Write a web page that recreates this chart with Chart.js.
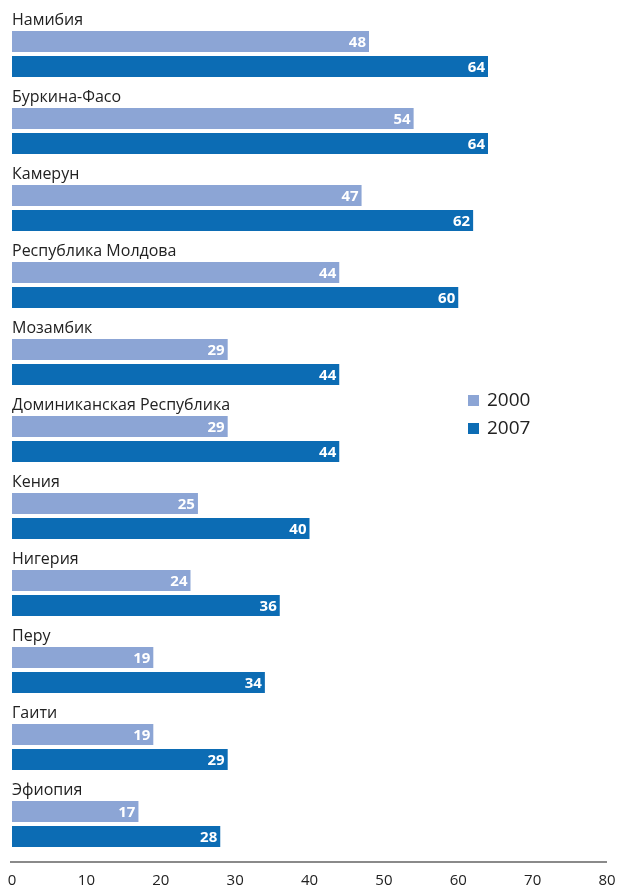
<!DOCTYPE html>
<html>
<head>
<meta charset="utf-8">
<script src="https://cdn.jsdelivr.net/npm/chart.js@4"></script>
<style>
  html, body { margin: 0; padding: 0; background: #fff; }
  #wrap { width: 618px; height: 888px; position: relative; }
</style>
</head>
<body>
<div id="wrap"><canvas id="barChart"></canvas></div>
<script>
    'use strict';

    var countries = ['Намибия', 'Буркина-Фасо', 'Камерун', 'Республика Молдова', 'Мозамбик',
        'Доминиканская Республика', 'Кения', 'Нигерия', 'Перу', 'Гаити', 'Эфиопия'];
    var values2000 = [48, 54, 47, 44, 29, 29, 25, 24, 19, 19, 17];
    var values2007 = [64, 64, 62, 60, 44, 44, 40, 36, 34, 29, 28];
    var xTicks = [0, 10, 20, 30, 40, 50, 60, 70, 80];

    var LIGHT = '#8ca5d5';
    var DARK = '#0c6cb4';
    var FONT = "'Open Sans', 'DejaVu Sans', sans-serif";

    // country names above each pair, value labels inside bar ends, axis line, legend
    var decorPlugin = {
        id: 'decor',
        afterDatasetsDraw: function(chart) {
            var ctx = chart.ctx;
            var area = chart.chartArea;
            var m2000 = chart.getDatasetMeta(1);
            var m2007 = chart.getDatasetMeta(2);

            ctx.save();
            ctx.fillStyle = '#222';
            ctx.font = '16px ' + FONT;
            ctx.textAlign = 'left';
            ctx.textBaseline = 'middle';
            m2000.data.forEach(function(bar, i) {
                var step = m2007.data[i].y - bar.y;
                ctx.fillText(countries[i], area.left, bar.y - step + 4);
            });

            ctx.fillStyle = '#fff';
            ctx.font = 'bold 15px ' + FONT;
            ctx.textAlign = 'right';
            [m2000, m2007].forEach(function(meta, d) {
                var vals = d === 0 ? values2000 : values2007;
                meta.data.forEach(function(bar, i) {
                    ctx.fillText(String(vals[i]), bar.x - 3, bar.y + 1);
                });
            });

            var x = chart.scales.x;
            ctx.strokeStyle = '#8a8a8a';
            ctx.lineWidth = 2;
            ctx.beginPath();
            ctx.moveTo(x.left - 2, area.bottom + 12);
            ctx.lineTo(x.right, area.bottom + 12);
            ctx.stroke();

            var lx = 468, ly = 395;
            ctx.textAlign = 'left';
            ctx.font = '19px ' + FONT;
            chart.data.datasets.forEach(function(ds) {
                if (!ds.label) return;
                ctx.fillStyle = ds.backgroundColor;
                ctx.fillRect(lx, ly, 11, 11);
                ctx.fillStyle = '#222';
                ctx.fillText(ds.label, lx + 19, ly + 6);
                ly += 28;
            });
            ctx.restore();
        }
    };

    var CHART = document.getElementById('barChart');
    var myBarChart = new Chart(CHART, {
        type: 'bar',
        data: {
            labels: countries,
            datasets: [{
                label: '',
                data: countries.map(function() { return null; }),
                backgroundColor: 'rgba(0,0,0,0)'
            }, {
                label: '2000',
                data: values2000,
                backgroundColor: LIGHT
            }, {
                label: '2007',
                data: values2007,
                backgroundColor: DARK
            }]
        },
        options: {
            indexAxis: 'y',
            responsive: true,
            maintainAspectRatio: false,
            animation: false,
            layout: { padding: { left: 12, right: 11, top: 3, bottom: 0 } },
            datasets: {
                bar: { barPercentage: 0.84, categoryPercentage: 0.974 }
            },
            plugins: {
                legend: { display: false },
                tooltip: { enabled: false }
            },
            scales: {
                y: { display: false },
                x: {
                    min: 0,
                    max: 80,
                    afterFit: function(scale) {
                        scale.height = 38;
                        scale.paddingLeft = 0;
                        scale.paddingRight = 0;
                    },
                    afterBuildTicks: function(scale) {
                        scale.ticks = xTicks.map(function(v) { return { value: v }; });
                    },
                    grid: { display: false, drawTicks: false },
                    border: { display: false },
                    ticks: {
                        padding: 22,
                        color: '#222',
                        font: { family: FONT, size: 15 },
                        maxRotation: 0
                    }
                }
            }
        },
        plugins: [decorPlugin]
    });
</script>
</body>
</html>
